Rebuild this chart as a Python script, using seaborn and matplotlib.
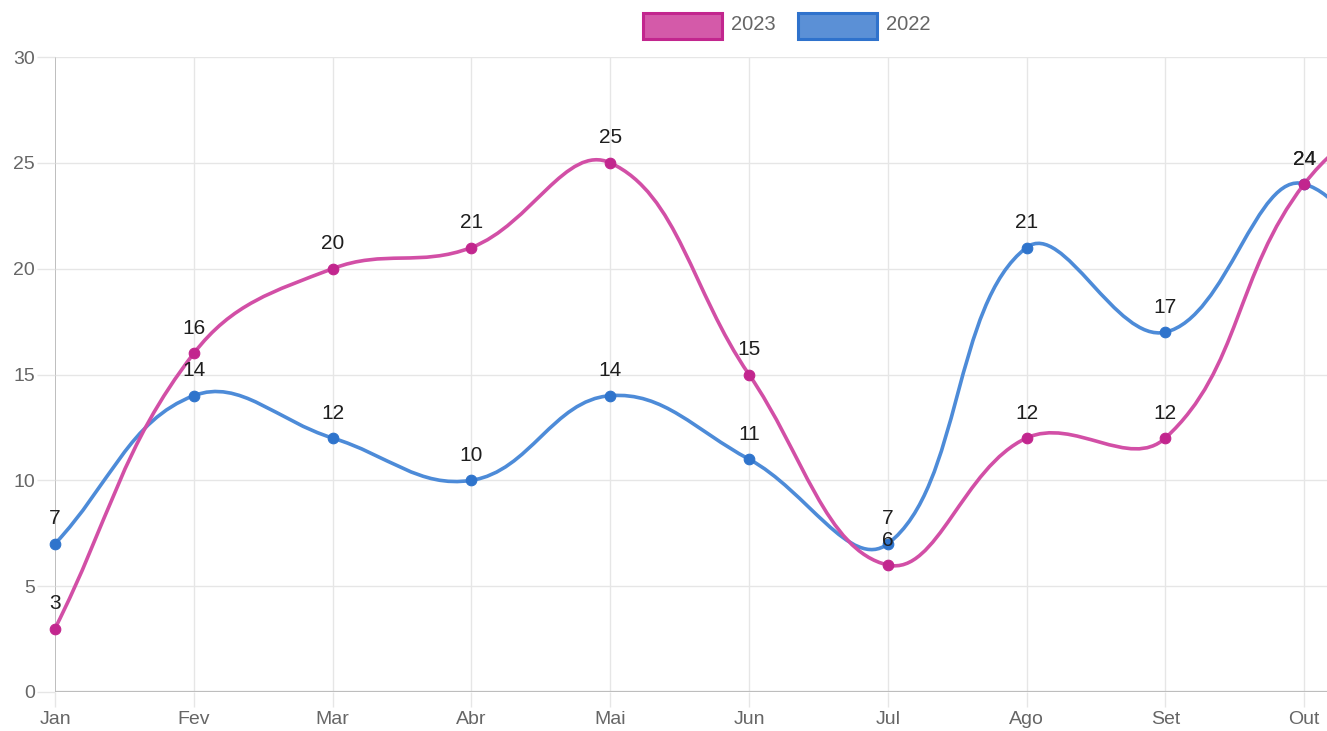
import numpy as np
import matplotlib
matplotlib.use("Agg")
import matplotlib.pyplot as plt
from matplotlib.path import Path
from matplotlib.patches import PathPatch, Rectangle
import seaborn as sns

months = ["Jan", "Fev", "Mar", "Abr", "Mai", "Jun", "Jul", "Ago", "Set", "Out", "Nov"]
sales_2023 = [3, 16, 20, 21, 25, 15, 6, 12, 12, 24, 29]
sales_2022 = [7, 14, 12, 10, 14, 11, 7, 21, 17, 24, 13]
n_visible = 10  # the chart is cut off right after "Out"

PINK_LINE, PINK_PT = "#d24fa6", "#c2268e"
BLUE_LINE, BLUE_PT = "#4d8bd8", "#2f74cc"
GRID = "#e6e6e6"
AXIS = "#bdbdbd"
TXT = "#666666"

sns.set_theme(style="white")
plt.rcParams["font.family"] = ["Liberation Sans", "DejaVu Sans"]

W, H = 1327, 731
fig = plt.figure(figsize=(W / 100, H / 100), dpi=100)
left_px, right_px, top_px, bot_px = 55, 1327, 57, 692
ax = fig.add_axes([left_px / W, 1 - bot_px / H,
                   (right_px - left_px) / W, (bot_px - top_px) / H])
x_step = 138.8
px_y = (bot_px - top_px) / 30.0


def spline_path(vals, tension=0.4):
    # Chart.js style bezier, control points computed in pixel space
    xs = np.arange(len(vals)) * x_step
    ys = np.array(vals, dtype=float) * px_y
    n = len(vals)
    cps = []
    for i in range(n):
        p0 = (xs[max(i - 1, 0)], ys[max(i - 1, 0)])
        p1 = (xs[i], ys[i])
        p2 = (xs[min(i + 1, n - 1)], ys[min(i + 1, n - 1)])
        d01 = np.hypot(p1[0] - p0[0], p1[1] - p0[1])
        d12 = np.hypot(p2[0] - p1[0], p2[1] - p1[1])
        s01 = d01 / (d01 + d12) if d01 + d12 else 0
        s12 = d12 / (d01 + d12) if d01 + d12 else 0
        fa, fb = tension * s01, tension * s12
        cp_prev = (p1[0] - fa * (p2[0] - p0[0]), p1[1] - fa * (p2[1] - p0[1]))
        cp_next = (p1[0] + fb * (p2[0] - p0[0]), p1[1] + fb * (p2[1] - p0[1]))
        cps.append((cp_prev, cp_next))
    verts = [(xs[0] / x_step, ys[0] / px_y)]
    codes = [Path.MOVETO]
    for i in range(n - 1):
        a = cps[i][1]
        b = cps[i + 1][0]
        verts += [(a[0] / x_step, a[1] / px_y), (b[0] / x_step, b[1] / px_y),
                  (xs[i + 1] / x_step, ys[i + 1] / px_y)]
        codes += [Path.CURVE4] * 3
    return Path(verts, codes)


# grid
for v in range(5, 31, 5):
    ax.axhline(v, color=GRID, lw=1, zorder=0)
ax.axhline(0, color=AXIS, lw=1.6, zorder=0.5)
for i in range(1, len(months)):
    ax.axvline(i, color=GRID, lw=1, zorder=0)
ax.axvline(0, color="#b3b3b3", lw=1.2, zorder=0.5)

series = [(sales_2022, BLUE_LINE, BLUE_PT, 2), (sales_2023, PINK_LINE, PINK_PT, 4)]
x_idx = np.arange(len(months))
for vals, lc, pc, z in series:
    ax.add_patch(PathPatch(spline_path(vals), facecolor="none", edgecolor=lc,
                           lw=2.6, zorder=z, capstyle="round", joinstyle="round"))
    sns.scatterplot(x=x_idx[:n_visible], y=vals[:n_visible], color=pc, s=58,
                    edgecolor=pc, linewidth=0.8, zorder=z + 1, ax=ax, legend=False,
                    clip_on=False)
for vals, lc, pc, z in series:
    for i, v in enumerate(vals[:n_visible]):
        ax.annotate(str(v), (i, v), xytext=(0, 14), textcoords="offset points",
                    ha="center", va="baseline", fontsize=15, color="#1e1e1e",
                    zorder=10, annotation_clip=False)

ax.set_xlim(0, (right_px - left_px) / x_step)
ax.set_ylim(0, 30)
ax.set_xticks(x_idx[:n_visible])
ax.set_xticklabels(months[:n_visible])
ax.set_yticks(range(0, 31, 5))
ax.tick_params(axis="x", length=11, width=1, color=GRID, labelcolor=TXT,
               labelsize=14, pad=3, bottom=True)
ax.tick_params(axis="y", length=13, width=1, color=GRID, labelcolor=TXT,
               labelsize=14, pad=1.5, left=True)
for s in ax.spines.values():
    s.set_visible(False)
ax.set_xlabel("")
ax.set_ylabel("")

# legend
def legend_item(x0, label, fill, edge):
    fig.add_artist(Rectangle((x0 / W, 1 - 39 / H), 79 / W, 26 / H,
                             transform=fig.transFigure, facecolor=fill,
                             edgecolor=edge, lw=2.2))
    fig.text((x0 + 88) / W, 1 - 25 / H, label, fontsize=14.5, color=TXT,
             ha="left", va="center")

legend_item(643, "2023", "#d45aa9", "#c2268e")
legend_item(798, "2022", "#5b90d6", "#2f72cc")

fig.savefig("out.png", dpi=100)
